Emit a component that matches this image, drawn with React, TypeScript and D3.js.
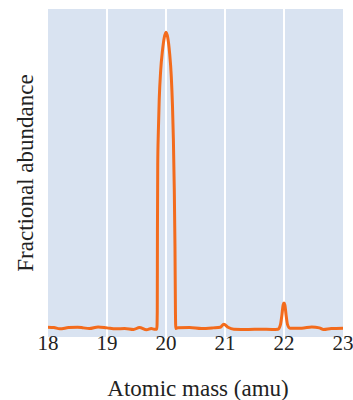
import * as d3 from "d3";

// trace (mass in amu, fractional abundance)
const masses = [
  18.0, 18.1, 18.2, 18.35, 18.5, 18.6, 18.7, 18.85, 19.0, 19.15, 19.3, 19.45, 19.55, 19.67, 19.75, 19.8, 19.845,
  19.852, 19.855, 19.86, 19.87, 19.885, 19.91, 19.94, 19.97, 20.0, 20.03, 20.06, 20.09, 20.11, 20.125, 20.14, 20.152, 20.16, 20.166,
  20.2, 20.4, 20.6, 20.8, 20.92, 20.98, 21.05, 21.15, 21.4, 21.6, 21.8, 21.9,
  21.94, 21.965, 21.985, 22.0, 22.015, 22.035, 22.06, 22.1,
  22.3, 22.47, 22.6, 22.67, 22.8, 23.0,
];
const abundance = [
  0.002, 0.001, -0.003, 0.001, 0.002, 0.0, -0.002, 0.003, 0.0, -0.003, -0.002, -0.005, 0.001, -0.006, -0.002, -0.004, -0.004,
  0.05, 0.3, 0.5, 0.6, 0.7, 0.79, 0.85, 0.89, 0.907, 0.89, 0.845, 0.77, 0.68, 0.58, 0.43, 0.25, 0.05, -0.002,
  0.0, 0.001, -0.002, 0.0, 0.002, 0.011, 0.002, -0.004, -0.005, -0.004, -0.005, -0.004,
  0.01, 0.04, 0.07, 0.076, 0.07, 0.04, 0.01, -0.001,
  -0.001, 0.003, 0.0, -0.005, -0.002, -0.001,
];
const xTicks = [18, 19, 20, 21, 22, 23];
const gridMasses = [19, 20, 21, 22];

const W = 353;
const H = 400;
const plot = { left: 48, right: 343, top: 9, bottom: 337 };

export default function App() {
  const x = d3.scaleLinear().domain([18, 23]).range([plot.left, plot.right]);
  const y = d3.scaleLinear().domain([-0.028, 0.978]).range([plot.bottom, plot.top]);

  const points: [number, number][] = masses.map((m, i) => [m, abundance[i]]);
  const line = d3
    .line<[number, number]>()
    .x((d) => x(d[0]))
    .y((d) => y(d[1]))
    .curve(d3.curveMonotoneX);

  const textStyle = { fontFamily: "'Liberation Serif', Tinos, 'Times New Roman', Times, serif" };

  return (
    <svg width={W} height={H} style={{ position: "absolute", left: 0, top: 0, background: "#fff" }}>
      <rect x={plot.left} y={plot.top} width={plot.right - plot.left} height={plot.bottom - plot.top} fill="#d9e3f1" />
      {gridMasses.map((m) => (
        <line key={m} x1={x(m)} x2={x(m)} y1={plot.top} y2={plot.bottom} stroke="#ffffff" strokeWidth={2} />
      ))}
      <path d={line(points) ?? ""} fill="none" stroke="#f36b1c" strokeWidth={3} strokeLinejoin="round" />
      {xTicks.map((t) => (
        <text key={t} x={x(t)} y={350} textAnchor="middle" style={textStyle} fontSize={21} fill="#222">
          {t}
        </text>
      ))}
      <text x={198} y={396} textAnchor="middle" style={textStyle} fontSize={23} fill="#222">
        Atomic mass (amu)
      </text>
      <text
        transform={`translate(33, 173) rotate(-90)`}
        textAnchor="middle"
        style={textStyle}
        fontSize={23}
        fill="#222"
      >
        Fractional abundance
      </text>
    </svg>
  );
}
